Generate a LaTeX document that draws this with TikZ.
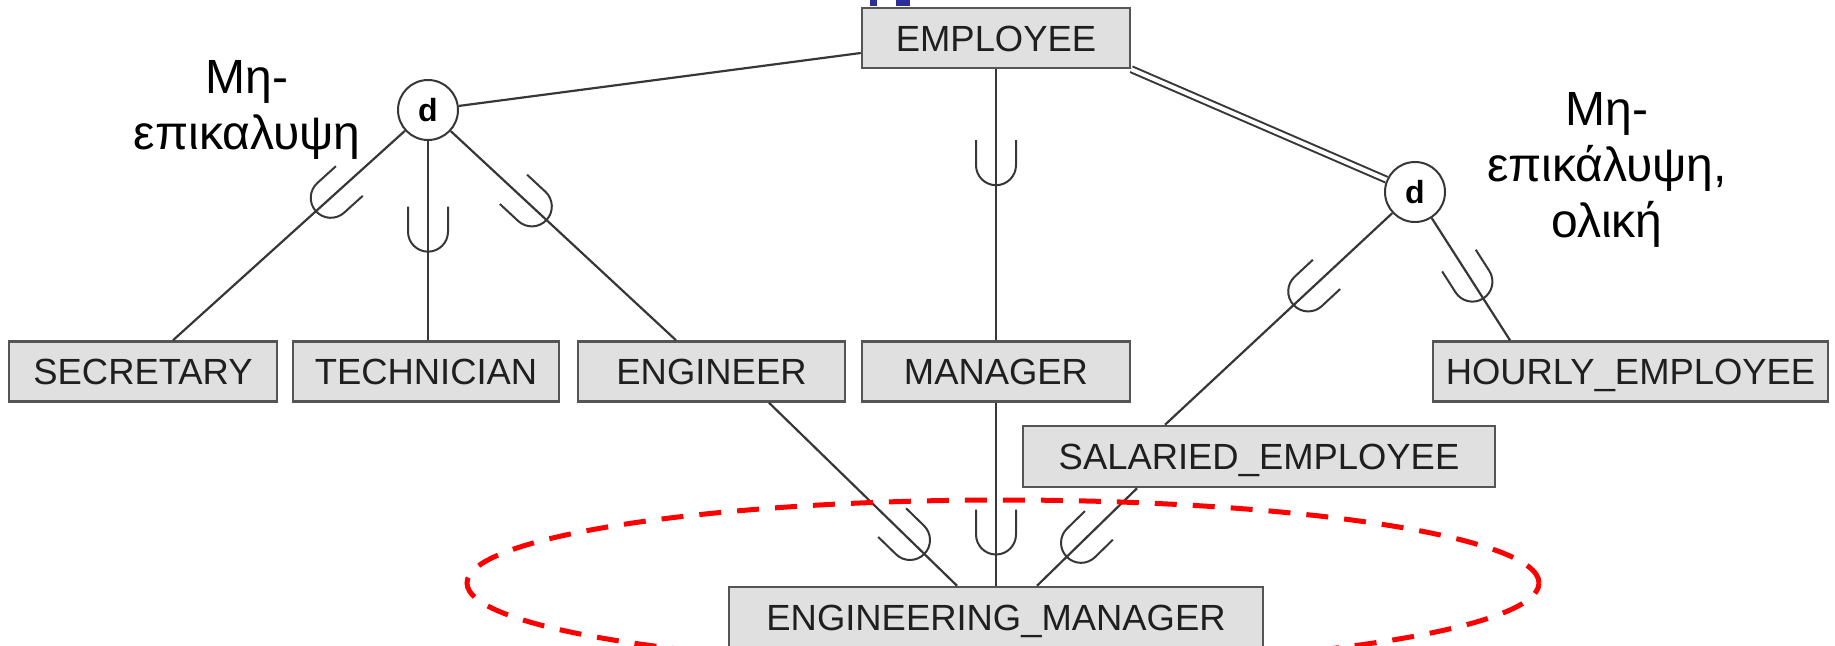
\documentclass[tikz,border=0pt]{standalone}
\usepackage{fontspec}
\setmainfont{Liberation Sans}
\usetikzlibrary{decorations.markings}
\definecolor{boxfill}{RGB}{224,224,224}
\definecolor{boxdraw}{RGB}{85,85,85}
\definecolor{linec}{RGB}{55,55,55}
\definecolor{titleblue}{RGB}{45,45,150}
\begin{document}
\begin{tikzpicture}[x=1pt,y=-1pt,
  ent/.style={draw=boxdraw, fill=boxfill, line width=2.5pt, minimum height=60pt, inner sep=0pt,
    text height=26pt, text depth=0pt, text=black!88, font=\fontsize{36.4}{43}\selectfont},
  dnode/.style={circle, draw=linec, fill=white, line width=2pt, minimum size=60pt, inner sep=0pt,
    font=\bfseries\fontsize{32}{36}\selectfont},
  conn/.style={draw=linec, line width=2.2pt},
  usym/.style={draw=linec, line width=2pt},
  sub/.style={postaction={decorate, decoration={markings, mark=at position #1 with
    {\draw[usym] (-25pt,20pt) -- (0pt,20pt) arc[start angle=90, end angle=-90, radius=20pt] -- (-25pt,-20pt);}}}},
  lbl/.style={align=center, inner sep=0pt, anchor=north, font=\fontsize{48}{56}\selectfont}
]
\useasboundingbox (0,0) rectangle (1835,645);

% title fragments
\fill[titleblue] (870,0) rectangle (877,6);
\fill[titleblue] (896,0) rectangle (910,6);

% entities
\node[ent, minimum width=268pt] (emp) at (996,38) {EMPLOYEE};
\node[ent, minimum width=268pt] (sec) at (143,371.5) {SECRETARY};
\node[ent, minimum width=266pt] (tech) at (426,371.5) {TECHNICIAN};
\node[ent, minimum width=267pt] (eng) at (711.5,371.5) {ENGINEER};
\node[ent, minimum width=268pt] (man) at (996,371.5) {MANAGER};
\node[ent, minimum width=395pt] (hourly) at (1630.5,371.5) {HOURLY\_EMPLOYEE};
\node[ent, minimum width=472pt, minimum height=61pt] (sal) at (1259,456.5) {SALARIED\_EMPLOYEE};
\node[ent, minimum width=534pt] (em) at (996,617) {ENGINEERING\_MANAGER};

% disjointness circles
\node[dnode] (ld) at (428,110) {d};
\node[dnode] (rd) at (1415,192) {d};

% connectors
\draw[conn] (ld) -- ([yshift=-15pt]emp.west);
\draw[conn, sub=0.32] (ld) -- ([xshift=30pt]sec.north);
\draw[conn, sub=0.455] (ld) -- (ld |- tech.north);
\draw[conn, sub=0.36] (ld) -- ([xshift=-35.5pt]eng.north);
\draw[conn, sub=0.354] (emp.south) -- (man.north);
\draw[draw=linec, line width=2pt, double=white, double distance=4pt] (emp.south east) -- (rd);
\draw[conn, sub=0.37] (rd) -- ([xshift=-94pt]sal.north);
\draw[conn, sub=0.52] (rd) -- ([xshift=-120.5pt]hourly.north);
\draw[conn, sub=0.75] ([xshift=57.5pt]eng.south) -- ([xshift=-39pt]em.north);
\draw[conn, sub=0.72] (man.south) -- (em.north);
\draw[conn, sub=0.56] ([xshift=-122pt]sal.south) -- ([xshift=41pt]em.north);

% labels
\node[lbl] (lab1) at (247,60) {Μη-\\επικαλυψη};
\node[lbl] (lab2) at (1607,92) {Μη-\\επικάλυψη,\\ολική};

% highlight
\draw[red, line width=5pt, dash pattern=on 22pt off 16pt] (1003,583) ellipse [x radius=536pt, y radius=83pt];
\end{tikzpicture}
\end{document}
